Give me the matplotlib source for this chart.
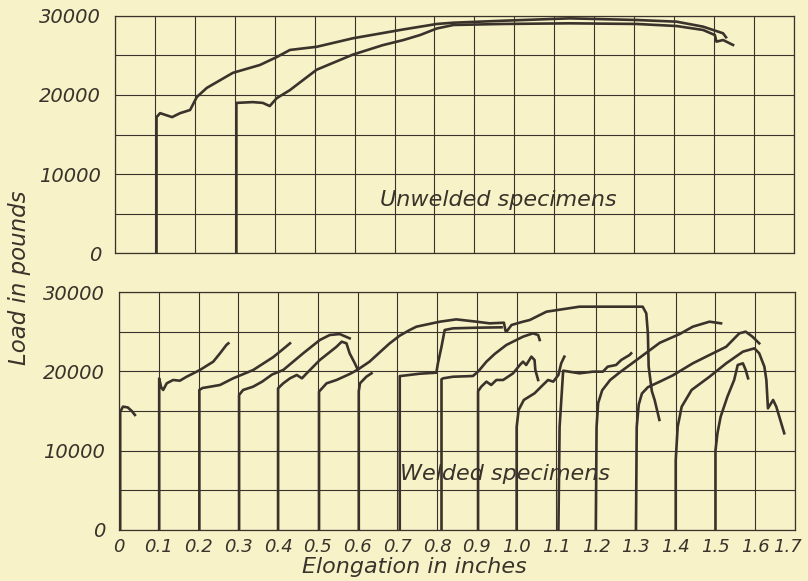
import numpy as np
import matplotlib.pyplot as plt
import matplotlib.transforms as mtransforms

# unwelded specimens (top panel), elongation in inches / load in pounds
unw_a_x = [0.104, 0.104, 0.113, 0.143, 0.163, 0.188, 0.205, 0.23, 0.295, 0.363, 0.405, 0.438,
           0.505, 0.596, 0.7225, 0.806, 0.8475, 0.9725, 1.139, 1.306, 1.406, 1.4725, 1.5225, 1.53]
unw_a_y = [0, 17200, 17700, 17200, 17700, 18100, 19750, 20900, 22800, 23800, 24800, 25700,
           26100, 27180, 28300, 28990, 29150, 29400, 29700, 29490, 29280, 28650, 27810, 27300]
unw_b_x = [0.304, 0.304, 0.345, 0.37, 0.3875, 0.405, 0.4375, 0.505, 0.595, 0.67, 0.7225, 0.764,
           0.806, 0.8475, 0.9725, 1.139, 1.306, 1.406, 1.4725, 1.502, 1.506, 1.5225, 1.5475]
unw_b_y = [0, 19000, 19100, 19000, 18600, 19600, 20600, 23200, 25100, 26300, 26960, 27590,
           28420, 28860, 28990, 29070, 28990, 28730, 28230, 27590, 26750, 26960, 26330]

# welded specimens (bottom panel)
w00_x = [0.003, 0.003, 0.01, 0.022, 0.032, 0.04]
w00_y = [0, 14900, 15550, 15450, 15000, 14500]
w01_x = [0.101, 0.101, 0.106, 0.111, 0.12, 0.136, 0.153, 0.17, 0.2035, 0.237, 0.254, 0.27, 0.275]
w01_y = [0, 19100, 18000, 17650, 18490, 18910, 18820, 19320, 20170, 21220, 22270, 23320, 23530]
w02_x = [0.202, 0.202, 0.21, 0.229, 0.254, 0.287, 0.3375, 0.388, 0.41, 0.43]
w02_y = [0, 17650, 17900, 18060, 18280, 19120, 20170, 21800, 22700, 23530]
w03_x = [0.302, 0.302, 0.312, 0.337, 0.36, 0.385, 0.413, 0.438, 0.463, 0.505, 0.53, 0.555, 0.58]
w03_y = [0, 17020, 17650, 18060, 18700, 19600, 20170, 21220, 22270, 23950, 24580, 24700, 24160]
w04_x = [0.4, 0.4, 0.413, 0.43, 0.447, 0.46, 0.472, 0.505, 0.547, 0.56, 0.572, 0.58, 0.593, 0.6]
w04_y = [0, 17860, 18490, 19120, 19540, 19120, 19750, 21430, 23100, 23740, 23530, 22270, 21010, 20260]
w05_x = [0.503, 0.503, 0.522, 0.547, 0.58, 0.599, 0.63, 0.68, 0.706, 0.731, 0.748, 0.807, 0.848,
         0.899, 0.932, 0.968, 0.972, 0.976, 0.987, 1.016, 1.033, 1.075, 1.158, 1.284, 1.317,
         1.326, 1.33, 1.332, 1.34, 1.347, 1.359]
w05_y = [0, 17440, 18490, 18910, 19660, 20170, 21220, 23500, 24500, 25210, 25630, 26260, 26550,
         26260, 26050, 26130, 25100, 25100, 25840, 26260, 26470, 27520, 28150, 28150, 28150,
         27310, 24790, 20590, 17500, 16390, 13870]
w06_x = [0.603, 0.603, 0.606, 0.622, 0.635]
w06_y = [0, 17500, 18490, 19320, 19750]
w07_x = [0.706, 0.706, 0.715, 0.756, 0.798, 0.802, 0.811, 0.819, 0.84, 0.9, 0.962]
w07_y = [0, 19400, 19450, 19700, 19830, 21010, 23100, 25210, 25420, 25500, 25550]
w08_x = [0.811, 0.811, 0.815, 0.84, 0.89, 0.903, 0.924, 0.945, 0.974, 1.016, 1.041, 1.054, 1.058]
w08_y = [0, 19000, 19120, 19320, 19410, 19960, 21220, 22200, 23320, 24370, 24790, 24580, 23950]
w09_x = [0.903, 0.903, 0.911, 0.924, 0.936, 0.949, 0.966, 0.991, 1.008, 1.016, 1.024, 1.037,
         1.045, 1.047, 1.054]
w09_y = [0, 17500, 18070, 18700, 18280, 18910, 18910, 19750, 20800, 21220, 20800, 21850,
         21430, 20170, 18910]
w10_x = [1.0, 1.0, 1.005, 1.018, 1.045, 1.066, 1.079, 1.092, 1.105, 1.112, 1.12]
w10_y = [0, 13000, 15130, 16390, 17230, 18280, 18910, 18700, 19540, 21010, 21850]
w11_x = [1.105, 1.108, 1.117, 1.158, 1.192, 1.217, 1.229, 1.25, 1.263, 1.284, 1.288]
w11_y = [0, 13000, 20080, 19750, 19960, 19960, 20590, 20800, 21430, 22060, 22270]
w12_x = [1.199, 1.201, 1.205, 1.215, 1.235, 1.26, 1.29, 1.325, 1.36, 1.41, 1.443, 1.485, 1.514]
w12_y = [0, 13000, 16000, 17600, 18900, 19900, 21000, 22300, 23600, 24700, 25630, 26260, 26050]
w13_x = [1.3, 1.302, 1.307, 1.315, 1.33, 1.36, 1.393, 1.443, 1.485, 1.527, 1.56, 1.576, 1.593, 1.61]
w13_y = [0, 13000, 15800, 17200, 18000, 18700, 19500, 21010, 22060, 23100, 24790, 25000, 24370, 23530]
w14_x = [1.4, 1.4, 1.405, 1.415, 1.44, 1.485, 1.527, 1.569, 1.598, 1.61, 1.623, 1.628, 1.632,
         1.645, 1.653, 1.673]
w14_y = [0, 8800, 13020, 15540, 17650, 19320, 21010, 22480, 22900, 22270, 20590, 18910, 15340,
         16390, 15540, 12190]
w15_x = [1.5, 1.5, 1.505, 1.513, 1.53, 1.547, 1.556, 1.569, 1.576, 1.582]
w15_y = [0, 10000, 12190, 14280, 16800, 18910, 20800, 21010, 20170, 19120]

x_ticks = np.arange(0, 1.71, 0.1)
x_labels = ['0'] + ['%.1f' % v for v in x_ticks[1:]]
y_ticks = [0, 10000, 20000, 30000]
y_labels = ['0', '10000', '20000', '30000']

paper = '#f8f2c8'
ink = '#3a332b'

plt.rcParams['font.family'] = 'DejaVu Sans'
plt.rcParams['font.style'] = 'italic'

fig = plt.figure(figsize=(8.08, 5.81), dpi=100, facecolor=paper)
ax1 = fig.add_axes([0.1423, 0.5645, 0.8403, 0.408])
ax2 = fig.add_axes([0.1473, 0.0878, 0.8366, 0.4096])


def setup(ax, show_x):
    ax.set_facecolor(paper)
    ax.set_xlim(0, 1.7)
    ax.set_ylim(0, 30000)
    ax.set_xticks(x_ticks)
    ax.set_yticks(y_ticks)
    ax.set_yticklabels(y_labels)
    ax.set_yticks(np.arange(0, 30001, 5000), minor=True)
    if show_x:
        ax.set_xticklabels(x_labels)
    else:
        ax.set_xticklabels([])
    ax.grid(True, which='both', color=ink, lw=0.8)
    ax.set_axisbelow(True)
    for s in ax.spines.values():
        s.set_color(ink)
        s.set_linewidth(0.9)
    ax.tick_params(which='both', length=0, labelsize=14, colors=ink)
    ax.tick_params(axis='y', pad=10)
    ax.tick_params(axis='x', pad=6, labelsize=13)


setup(ax1, False)
setup(ax2, True)
# nudge the last elongation label a little left so it stays inside the figure
last = ax2.get_xticklabels()[-1]
last.set_transform(last.get_transform() + mtransforms.ScaledTranslation(-7 / 100, 0, fig.dpi_scale_trans))

lw = 1.9
ax1.plot(unw_a_x, unw_a_y, color=ink, lw=lw)
ax1.plot(unw_b_x, unw_b_y, color=ink, lw=lw)

welded = [(w00_x, w00_y), (w01_x, w01_y), (w02_x, w02_y), (w03_x, w03_y), (w04_x, w04_y),
          (w05_x, w05_y), (w06_x, w06_y), (w07_x, w07_y), (w08_x, w08_y), (w09_x, w09_y),
          (w10_x, w10_y), (w11_x, w11_y), (w12_x, w12_y), (w13_x, w13_y), (w14_x, w14_y),
          (w15_x, w15_y)]
for xs, ys in welded:
    ax2.plot(xs, ys, color=ink, lw=lw)

ax1.text(0.96, 6700, 'Unwelded specimens', ha='center', va='center', fontsize=16, color=ink)
ax2.text(0.97, 7060, 'Welded specimens', ha='center', va='center', fontsize=16, color=ink)

fig.text(20 / 808, 1 - 278 / 581, 'Load in pounds', rotation=90, ha='center', va='center',
         fontsize=16.5, color=ink)
fig.text(414 / 808, 1 - 567 / 581, 'Elongation in inches', ha='center', va='center',
         fontsize=16, color=ink)

fig.savefig('out.png', dpi=100, facecolor=paper)
